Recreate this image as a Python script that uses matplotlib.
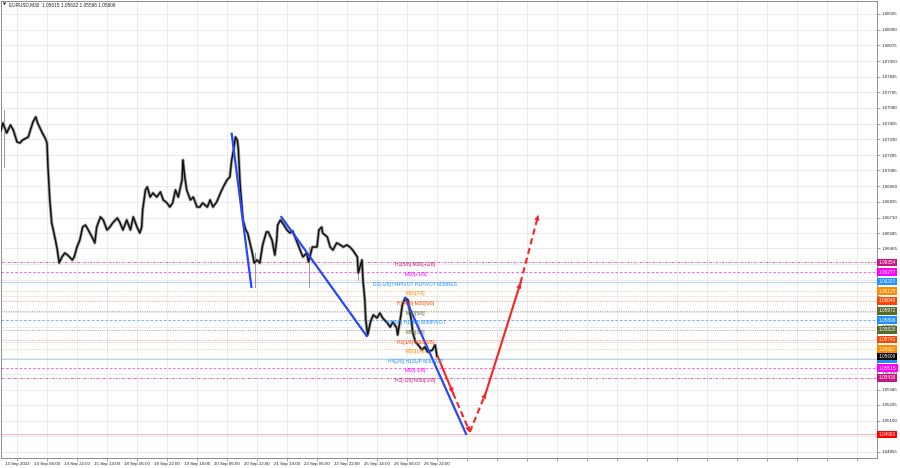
import matplotlib
matplotlib.use("Agg")
import matplotlib.pyplot as plt
from matplotlib.transforms import blended_transform_factory

# EURUSD M30 closes; x = M30 bar index (0 = "13 Sep 2023" grid line)
bars = [-18, -15, -11, -7, -4, 0, 3, 6, 12, 17, 20, 22, 27, 30, 32, 33, 35, 37, 38, 41,
        43, 45, 48, 51, 54, 59, 61, 64, 67, 70, 73, 76, 80, 83, 85, 89, 92, 96, 99, 102,
        107, 110, 113, 117, 121, 124, 128, 131, 133, 134, 137, 139, 142, 145, 149, 153, 156, 160, 163, 166,
        169, 172, 176, 177, 179, 181, 185, 188, 192, 195, 198, 203, 206, 209, 213, 217, 220, 224, 227, 229,
        231, 233, 235, 236, 238, 241, 244, 246, 251, 253, 256, 259, 262, 266, 268, 272, 275, 277, 278, 281,
        284, 288, 291, 294, 299, 302, 305, 309, 311, 315, 320, 322, 325, 326, 331, 334, 337, 341, 345, 348,
        352, 355, 358, 363, 364, 368, 369, 371, 372, 374, 377, 380, 384, 387, 390, 395, 398, 401, 405, 406,
        409, 411, 414, 417, 419, 421, 422, 425, 428, 432, 435, 438, 443, 446, 448]
close = [1.07381, 1.07460, 1.07381, 1.07444, 1.07405, 1.07310, 1.07302, 1.07325, 1.07349, 1.07468,
         1.07508, 1.07460, 1.07381, 1.07341, 1.07302, 1.07111, 1.06850, 1.06667, 1.06635, 1.06532,
         1.06453, 1.06350, 1.06398, 1.06429, 1.06413, 1.06374, 1.06398, 1.06477, 1.06532, 1.06635,
         1.06651, 1.06612, 1.06556, 1.06509, 1.06635, 1.06715, 1.06691, 1.06612, 1.06635, 1.06667,
         1.06707, 1.06667, 1.06612, 1.06691, 1.06612, 1.06715, 1.06635, 1.06588, 1.06635, 1.06770,
         1.06929, 1.06953, 1.06873, 1.06905, 1.06873, 1.06913, 1.06850, 1.06826, 1.06794, 1.06826,
         1.06929, 1.06873, 1.07008, 1.07167, 1.07032, 1.06929, 1.06850, 1.06873, 1.06794, 1.06794,
         1.06826, 1.06794, 1.06850, 1.06794, 1.06834, 1.06905, 1.06953, 1.07008, 1.07032, 1.07167,
         1.07246, 1.07349, 1.07325, 1.07262, 1.06969, 1.06691, 1.06612, 1.06588, 1.06429, 1.06350,
         1.06374, 1.06350, 1.06493, 1.06596, 1.06596, 1.06532, 1.06413, 1.06532, 1.06651, 1.06691,
         1.06659, 1.06612, 1.06588, 1.06604, 1.06509, 1.06453, 1.06398, 1.06429, 1.06358, 1.06477,
         1.06477, 1.06612, 1.06635, 1.06588, 1.06556, 1.06477, 1.06453, 1.06509, 1.06493, 1.06477,
         1.06493, 1.06477, 1.06453, 1.06398, 1.06271, 1.06374, 1.06215, 1.06057, 1.05898, 1.05779,
         1.05882, 1.05938, 1.05914, 1.05953, 1.05914, 1.05874, 1.05842, 1.05882, 1.05834, 1.05779,
         1.05914, 1.06017, 1.06072, 1.06057, 1.05961, 1.05882, 1.05803, 1.05723, 1.05700, 1.05660,
         1.05684, 1.05644, 1.05660, 1.05700, 1.05609]

# a few long wicks
wick_bars = [-14, 254, 311, 364]
wick_hi = [1.07563, 1.06429, 1.06477, 1.06398]
wick_lo = [1.07111, 1.06160, 1.06160, 1.06215]

# blue zigzag legs
zz_x = [[229, 250], [282, 373], [414, 479]]
zz_y = [[1.07375, 1.06160], [1.06715, 1.05771], [1.06072, 1.04994]]

# red projected path
proj_x = [449, 465, 483, 500, 537, 556]
proj_y = [1.05605, 1.05319, 1.05010, 1.05319, 1.06191, 1.06731]
proj_dashed = [False, True, True, False, True]

# Murrey / pivot levels
level_price = [1.06354, 1.06277, 1.06203, 1.06125, 1.06049, 1.05972, 1.05896,
               1.05820, 1.05743, 1.05667, 1.05591, 1.05515, 1.05438, 1.04990]
level_text = ["H1[5/8] M30[+2/8]", "M30[+1/8]", "D1[-1/8] H4PIVOT H1PIVOT M30RES",
              "M30[7/8]", "H1[4/8] M30[6/8]", "M30[5/8]", "H4[3/8] H1[3/8] M30PIVOT",
              "M30[3/8]", "H1[1/8] M30[2/8]", "M30[1/8]", "H4[2/8] H1SUP M30SUP",
              "M30[-1/8]", "H1[-1/8] M30[-2/8]", ""]
label_bar = 425
last_price = 1.05609

title = "EURUSD,M30  1.05615 1.05632 1.05596 1.05609"

time_labels = ["13 Sep 2023", "14 Sep 06:00", "14 Sep 22:00", "15 Sep 14:00", "18 Sep 06:00",
               "18 Sep 22:00", "19 Sep 14:00", "20 Sep 06:00", "20 Sep 22:00", "21 Sep 14:00",
               "22 Sep 06:00", "22 Sep 22:00", "25 Sep 14:00", "26 Sep 06:00", "26 Sep 22:00"]
price_ticks = [1.08325, 1.08200, 1.08075, 1.07950, 1.07825, 1.07705, 1.07580,
               1.07455, 1.07330, 1.07205, 1.07085, 1.06960, 1.06835, 1.06710,
               1.06585, 1.06465, 1.06340, 1.06215, 1.06090, 1.05965, 1.05845,
               1.05720, 1.05595, 1.05470, 1.05345, 1.05225, 1.05100, 1.04975,
               1.04855]
# scale labels that are fully covered by the price boxes in the screenshot
hidden_ticks = [1.06340, 1.06090, 1.05965, 1.05720, 1.05595, 1.04975]

# styles per level
line_col = ["#e85aa8", "#ff55ff", "#a9d2f5", "#ffc070", "#ff9270", "#909f78", "#66b0ff",
            "#909f78", "#ff9270", "#ffc070", "#a9d2f5", "#ff55ff", "#e85aa8", "#ffa8a8"]
box_col = ["#c71585", "#ff00ff", "#1e90ff", "#ff8c00", "#ff4500", "#556b2f", "#1e90ff",
           "#556b2f", "#ff4500", "#ff8c00", "#1e90ff", "#ff00ff", "#c71585", "#ff0000"]
dots = (0, (1, 1.6))
dash = (0, (3, 2))
dashdot = (0, (3, 1.5, 1, 1.5))
line_ls = [dashdot, dash, "-", dots, dots, dots, dash, dots, dots, dots, "-", dash, dashdot, "-"]

FONT = "Liberation Sans"

fig = plt.figure(figsize=(9, 4.68), dpi=100)
ax = fig.add_axes([1 / 900, 10 / 468, 876 / 900, 457 / 468])
ax.set_xlim(-17.07, 917.3)
ax.set_ylim(1.048036, 1.084276)

ax.set_axisbelow(True)
ax.grid(True, color="#e4e4e4", lw=0.5)

for p, lc, ls, bc, txt in zip(level_price, line_col, line_ls, box_col, level_text):
    ax.axhline(p, color=lc, lw=0.65, ls=ls, zorder=1)
    if txt:
        ax.text(label_bar, p, txt, color=bc, fontsize=3.6, family=FONT,
                ha="center", va="top", zorder=4)

# candles approximated by the close path with a grey wick halo
for wx, lo, hi in zip(wick_bars, wick_lo, wick_hi):
    ax.plot([wx, wx], [lo, hi], color="#9a9a9a", lw=0.7, zorder=2)
ax.plot(bars, close, color="#a8a8a8", lw=2.3, zorder=2)
ax.plot(bars, close, color="#111111", lw=1.1, zorder=3)

for xs, ys in zip(zz_x, zz_y):
    ax.plot(xs, ys, color="#2746ff", lw=1.6, zorder=3)

for i, dashed in enumerate(proj_dashed):
    x0, x1 = proj_x[i], proj_x[i + 1]
    y0, y1 = proj_y[i], proj_y[i + 1]
    ax.plot([x0, x1], [y0, y1], color="#ff2222", lw=1.5,
            ls=(0, (3, 1.8)) if dashed else "-", zorder=3)
    ax.annotate("", xy=(x1, y1), xytext=(x0 + 0.93 * (x1 - x0), y0 + 0.93 * (y1 - y0)),
                arrowprops=dict(arrowstyle="-|>", color="#ff2222", lw=1.0,
                                mutation_scale=6, shrinkA=0, shrinkB=0), zorder=4)

# axes
ax.yaxis.tick_right()
ax.set_yticks(price_ticks)
ax.set_yticklabels(["" if t in hidden_ticks else f"{t:.5f}" for t in price_ticks])
xt = [32 * k for k in range(29)]
ax.set_xticks(xt)
ax.set_xticklabels(time_labels + [""] * (len(xt) - len(time_labels)))
ax.tick_params(axis="both", labelsize=3.2, length=2, width=0.5, color="#808080",
               pad=1, labelcolor="#202020")
for lab in ax.get_xticklabels() + ax.get_yticklabels():
    lab.set_family(FONT)
for sp in ax.spines.values():
    sp.set_color("#8c8c8c")
    sp.set_linewidth(0.7)

# price boxes on the right scale
tr = blended_transform_factory(ax.transAxes, ax.transData)
for p, bc in zip(level_price, box_col):
    ax.text(1.0017, p, f"{p:.5f}", transform=tr, fontsize=3.4, family=FONT, color="white",
            ha="left", va="center", clip_on=False, zorder=6,
            bbox=dict(boxstyle="square,pad=0.3", fc=bc, ec="none"))
ax.text(1.0017, last_price, f"{last_price:.5f}", transform=tr, fontsize=3.4, family=FONT,
        color="white", ha="left", va="center", clip_on=False, zorder=7,
        bbox=dict(boxstyle="square,pad=0.3", fc="black", ec="none"))

fig.text(3 / 900, 1 - 5 / 468, "\u25bc", fontsize=2.8, ha="left", va="center", color="#202020")
fig.text(9 / 900, 1 - 5 / 468, title, fontsize=3.4, family=FONT, ha="left", va="center",
         color="#202020")

fig.savefig("out.png", dpi=100)
